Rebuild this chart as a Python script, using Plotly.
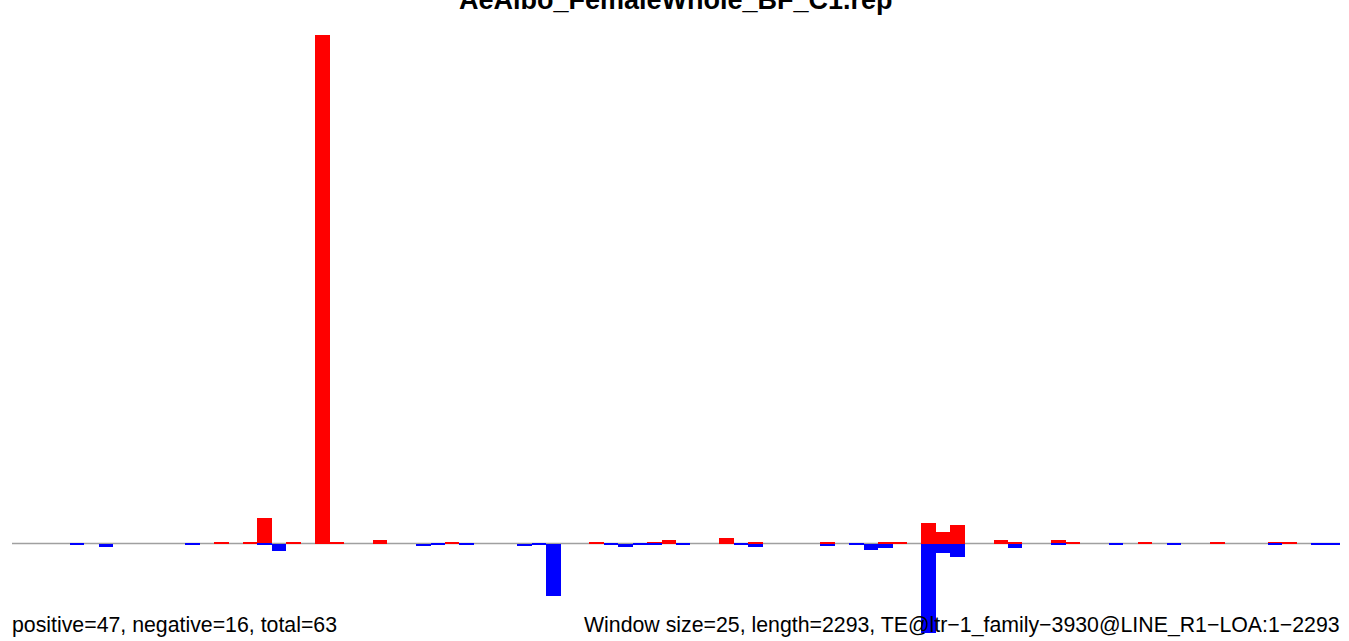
import plotly.graph_objects as go

# Window index (window size 25 over length 2293 -> 92 windows)
n_windows = 92
windows = list(range(n_windows))

# Positive-strand signal per window (red, upward)
pos_idx = [14, 16, 17, 19, 21, 22, 25, 30, 40, 44, 45, 49, 51, 56, 60, 61, 63, 64, 65, 68, 69, 72, 73, 78, 83, 87, 88]
pos_val = [1, 1, 25.5, 1, 508.5, 1.5, 3.5, 2, 1, 2, 4, 5.7, 1, 1, 2, 1, 20.5, 11.5, 18.5, 4, 1, 4, 1, 1, 1, 1, 1]

# Negative-strand signal per window (blue, downward, magnitudes)
neg_idx = [4, 6, 12, 17, 18, 28, 29, 31, 35, 36, 37, 41, 42, 43, 44, 46, 50, 51, 56, 58, 59, 60, 63, 64, 65, 69, 72, 76, 80, 87, 90, 91]
neg_val = [1, 3, 1, 1, 7.5, 2, 1, 1, 2, 1, 52, 1, 3.3, 1, 1, 1, 1, 3, 2, 1, 6.5, 4.3, 89, 9, 13, 4.5, 1, 1, 1, 1, 1, 1]

positive = [0.0] * n_windows
negative = [0.0] * n_windows
for i, v in zip(pos_idx, pos_val):
    positive[i] = v
for i, v in zip(neg_idx, neg_val):
    negative[i] = -v

title_text = "AeAlbo_FemaleWhole_BF_C1.rep"
left_note = "positive=47, negative=16, total=63"
right_note = "Window size=25, length=2293, TE@ltr\u22121_family\u22123930@LINE_R1\u2212LOA:1\u22122293"

fig = go.Figure()
fig.add_trace(go.Bar(x=windows, y=positive, width=1, marker=dict(color="#ff0000", line=dict(width=0)),
                     showlegend=False, hoverinfo="x+y"))
fig.add_trace(go.Bar(x=windows, y=negative, width=1, marker=dict(color="#0000ff", line=dict(width=0)),
                     showlegend=False, hoverinfo="x+y"))

fig.add_shape(type="line", xref="x", yref="y", x0=-0.5, x1=n_windows - 0.5, y0=0, y1=0,
              line=dict(color="#a0a0a0", width=1.5), layer="below")

fig.add_annotation(text=f"<b>{title_text}</b>", xref="paper", yref="paper", x=676 / 1349, y=1.0,
                   xanchor="center", yanchor="middle", yshift=0, showarrow=False,
                   font=dict(family="Liberation Sans, Arial", size=27, color="black"))
fig.add_annotation(text=left_note, xref="paper", yref="paper", x=12 / 1349, y=(641 - 625) / 641,
                   xanchor="left", yanchor="middle", xshift=-2, showarrow=False,
                   font=dict(family="Liberation Sans, Arial", size=21.3, color="black"))
fig.add_annotation(text=right_note, xref="paper", yref="paper", x=1340 / 1349, y=(641 - 625) / 641,
                   xanchor="right", yanchor="middle", xshift=2, showarrow=False,
                   font=dict(family="Liberation Sans, Arial", size=21.3, color="black"))

px_per = 1328 / n_windows
fig.update_layout(
    width=1349, height=641,
    margin=dict(l=0, r=0, t=0, b=0),
    paper_bgcolor="white", plot_bgcolor="white",
    barmode="relative", bargap=0,
    xaxis=dict(range=[-0.5 - 12 / px_per, (1349 - 12) / px_per - 0.5], visible=False, fixedrange=True),
    yaxis=dict(range=[543.5 - 641, 543.5], visible=False, fixedrange=True),
)

fig.write_html("out.html", config={"displayModeBar": False},
               post_script="document.body.style.margin='0px';document.body.style.overflow='hidden';")
